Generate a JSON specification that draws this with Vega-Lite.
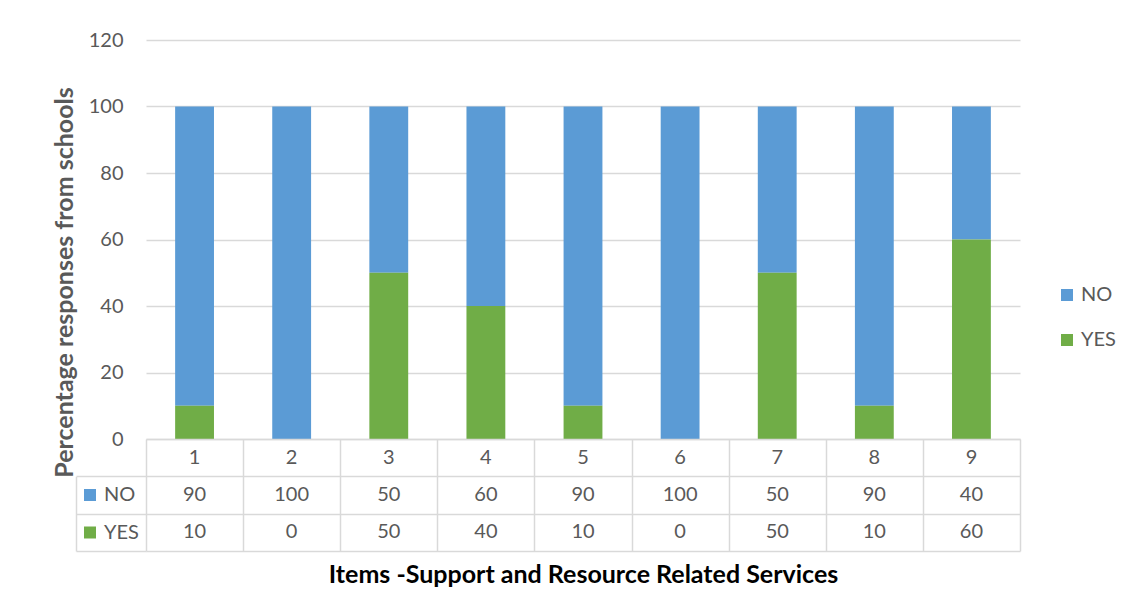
{
  "$schema": "https://vega.github.io/schema/vega-lite/v6.json",
  "padding": {"left": 52, "top": 30, "right": 5, "bottom": 5},
  "background": "white",
  "config": {"font": "Lato", "view": {"stroke": null}},
  "datasets": {
    "d": [
      {"item": "1", "response": "NO", "value": 90},
      {"item": "1", "response": "YES", "value": 10},
      {"item": "2", "response": "NO", "value": 100},
      {"item": "2", "response": "YES", "value": 0},
      {"item": "3", "response": "NO", "value": 50},
      {"item": "3", "response": "YES", "value": 50},
      {"item": "4", "response": "NO", "value": 60},
      {"item": "4", "response": "YES", "value": 40},
      {"item": "5", "response": "NO", "value": 90},
      {"item": "5", "response": "YES", "value": 10},
      {"item": "6", "response": "NO", "value": 100},
      {"item": "6", "response": "YES", "value": 0},
      {"item": "7", "response": "NO", "value": 50},
      {"item": "7", "response": "YES", "value": 50},
      {"item": "8", "response": "NO", "value": 90},
      {"item": "8", "response": "YES", "value": 10},
      {"item": "9", "response": "NO", "value": 40},
      {"item": "9", "response": "YES", "value": 60}
    ]
  },
  "spacing": 0,
  "bounds": "flush",
  "resolve": {"legend": {"color": "independent"}},
  "vconcat": [
    {
      "width": 874,
      "height": 399,
      "data": {"name": "d"},
      "mark": {"type": "bar", "width": {"band": 0.4}},
      "encoding": {
        "x": {"field": "item", "type": "ordinal", "scale": {"paddingInner": 0, "paddingOuter": 0}, "axis": null},
        "y": {
          "field": "value", "type": "quantitative", "stack": "zero",
          "scale": {"domain": [0, 120], "nice": false},
          "axis": {
            "values": [0, 20, 40, 60, 80, 100, 120],
            "title": "Percentage responses from schools",
            "titleFontSize": 25, "titleFontWeight": "bold", "titleColor": "#595959", "titlePadding": 11, "titleY": 242,
            "labelFontSize": 20, "labelColor": "#595959", "labelPadding": 23,
            "domain": false, "ticks": false,
            "grid": true, "gridColor": "#d9d9d9", "gridWidth": 1.5
          }
        },
        "color": {
          "field": "response", "type": "nominal",
          "scale": {"domain": ["NO", "YES"], "range": ["#5b9bd5", "#70ad47"]},
          "legend": {
            "orient": "none", "legendX": 911, "legendY": 245, "title": null,
            "symbolType": "square", "symbolSize": 144, "symbolStrokeWidth": 0,
            "labelFontSize": 20, "labelColor": "#595959", "labelOffset": 4,
            "rowPadding": 25, "padding": 0
          }
        },
        "order": {"field": "response", "sort": "descending"}
      }
    },
    {
      "width": 874,
      "height": 112,
      "data": {"name": "d"},
      "encoding": {
        "x": {
          "field": "item", "type": "ordinal",
          "scale": {"paddingInner": 0, "paddingOuter": 0},
          "axis": {
            "orient": "bottom", "domain": false, "ticks": false, "labels": false,
            "grid": true, "tickBand": "extent", "gridColor": "#d9d9d9", "gridWidth": 1.5,
            "title": "Items -Support and Resource Related Services",
            "titleFontSize": 25, "titleFontWeight": "bold", "titleColor": "#000000", "titlePadding": 11
          }
        },
        "y": {
          "field": "response", "type": "nominal",
          "scale": {"domain": ["item", "NO", "YES"], "paddingInner": 0, "paddingOuter": 0},
          "axis": {
            "orient": "left", "offset": 70, "labels": false, "title": null,
            "domain": true, "domainColor": "#d9d9d9", "domainWidth": 1.5, "domainDash": [0, 37.3, 80, 1000],
            "ticks": true, "tickSize": -70, "tickBand": "extent", "tickWidth": 1.5, "tickColor": "#d9d9d9",
            "tickOpacity": {"condition": {"test": "indexof(['item','NO','YES'], datum.value) >= 0", "value": 1}, "value": 0},
            "grid": true, "gridColor": "#d9d9d9", "gridWidth": 1.5
          }
        }
      },
      "layer": [
        {
          "mark": {"type": "text", "fontSize": 20, "fill": "#595959"},
          "encoding": {"text": {"field": "value", "type": "quantitative"}}
        },
        {
          "transform": [{"filter": "datum.response === 'NO'"}],
          "mark": {"type": "text", "fontSize": 20, "fill": "#595959"},
          "encoding": {"text": {"field": "item", "type": "nominal"}, "y": {"datum": "item"}}
        },
        {
          "mark": {"type": "square", "opacity": 0},
          "encoding": {
            "color": {
              "field": "response", "type": "nominal",
              "scale": {"domain": ["NO", "YES"], "range": ["#5b9bd5", "#70ad47"]},
              "legend": {
                "orient": "none", "legendX": -66, "legendY": 46, "title": null,
                "symbolType": "square", "symbolSize": 144, "symbolOpacity": 1, "symbolStrokeWidth": 0,
                "labelFontSize": 20, "labelColor": "#595959", "labelOffset": 4,
                "rowPadding": 17.5, "padding": 0
              }
            }
          }
        }
      ]
    }
  ]
}
